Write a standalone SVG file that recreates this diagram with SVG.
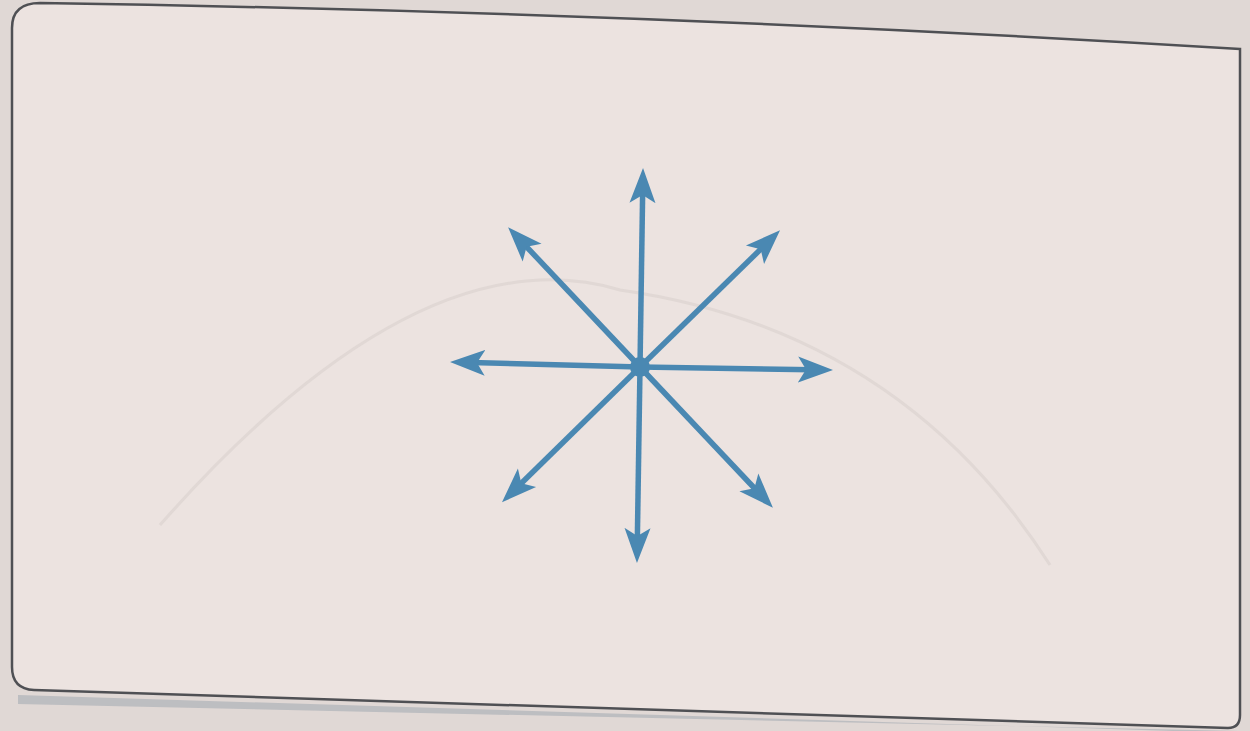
<svg xmlns="http://www.w3.org/2000/svg" width="1250" height="731" viewBox="0 0 1250 731">
  <defs>
    <style>
      .arrow { stroke: #4a88b2; stroke-width: 5.5; fill: none; stroke-linecap: butt; marker-end: url(#head); }
      .frame { fill: #ece3e0; stroke: #4f5054; stroke-width: 2.5; }
    </style>
    <marker id="head" markerUnits="userSpaceOnUse" markerWidth="36" markerHeight="30" viewBox="0 0 36 30" refX="14" refY="15" orient="auto">
      <path d="M0,2 L35,15 L0,28 L8,15 z" fill="#4a88b2"/>
    </marker>
  </defs>
  <rect x="0" y="0" width="1250" height="731" fill="#e0d8d5"/>
  <path d="M 18 695 L 1238 733 L 1238 731 L 18 704 z" fill="#9aa4ad" opacity="0.5"/>
  <g id="frame">
    <path class="frame" d="M 40 3 Q 640 12 1240 49 L 1240 715 Q 1240 728 1228 728 Q 620 708 34 690 Q 12 689 12 667 L 12 28 Q 12 3 40 3 z"/>
  </g>
  <path d="M 160 525 Q 420 230 620 290 Q 900 330 1050 565" fill="none" stroke="#d6cdca" stroke-width="3" opacity="0.5"/>
  <g id="connectors">
    <line class="arrow" x1="640" y1="367" x2="642.7" y2="189"/>
    <line class="arrow" x1="640" y1="367" x2="765" y2="245"/>
    <line class="arrow" x1="640" y1="367" x2="812" y2="369.7"/>
    <line class="arrow" x1="640" y1="367" x2="758.5" y2="492.5"/>
    <line class="arrow" x1="640" y1="367" x2="637.3" y2="542"/>
    <line class="arrow" x1="640" y1="367" x2="517" y2="487.5"/>
    <line class="arrow" x1="640" y1="367" x2="471" y2="362.5"/>
    <line class="arrow" x1="640" y1="367" x2="522.5" y2="242.5"/>
  </g>
  <g id="hub">
    <circle cx="640" cy="367" r="10" fill="#4a88b2"/>
  </g>
</svg>
